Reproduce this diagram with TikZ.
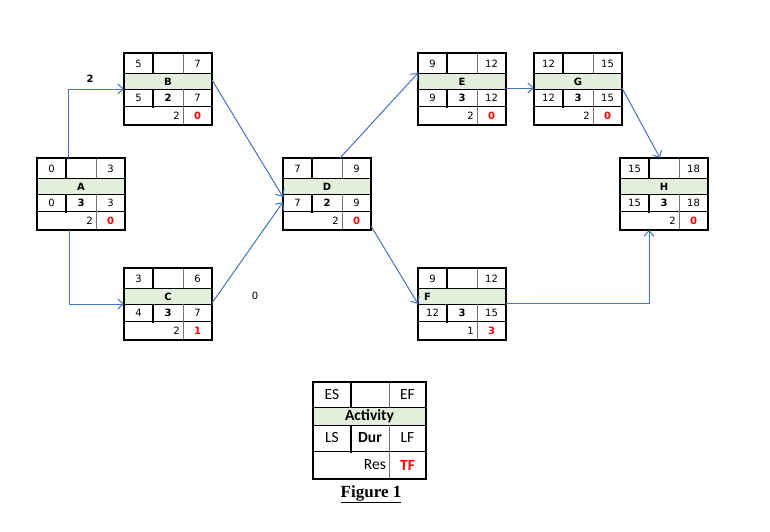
\documentclass[tikz,border=0pt]{standalone}
\usepackage{fontspec}
\setmainfont{DejaVu Sans}
\newfontfamily\legfont{Carlito}
\newfontfamily\capfont{Liberation Serif}
\usetikzlibrary{arrows.meta,calc}
\definecolor{arrowblue}{RGB}{68,114,196}
\definecolor{cellgreen}{RGB}{226,239,218}
\definecolor{tfred}{RGB}{255,0,0}
\tikzset{
 boxshape/.style={minimum width=88pt,minimum height=72pt,inner sep=0pt,outer sep=0pt,draw=none},
 frame/.style={draw=black,line width=2.8pt},
 hline/.style={draw=black,line width=0.8pt},
 vthick/.style={draw=black,line width=1.4pt},
 vthin/.style={draw=black!55,line width=0.6pt},
 num/.style={inner sep=0pt,font=\fontsize{10}{12}\selectfont},
 bnum/.style={inner sep=0pt,font=\fontsize{10}{12}\selectfont\bfseries},
 tf/.style={bnum,text=tfred},
 leg/.style={inner sep=0pt,font=\legfont\fontsize{15.5}{17}\selectfont},
 bleg/.style={inner sep=0pt,font=\legfont\fontsize{15.5}{17}\selectfont\bfseries},
 conn/.style={draw=arrowblue,line width=1pt,-{Straight Barb[length=5.5pt,width=10pt]}},
 lbl/.style={inner sep=0pt,font=\fontsize{10}{12}\selectfont},
}
% #1 name, #2 ES, #3 EF, #4 title, #5 LS, #6 Dur, #7 LF, #8 Res, #9 TF
\newcommand\actbox[9]{%
 \node[boxshape] (#1) at (44,36) {};
 \fill[cellgreen] (0,20) rectangle (88,36);
 \draw[hline] (0,20) -- (88,20) (0,36) -- (88,36) (0,53) -- (88,53);
 \draw[vthick] (29,0) -- (29,20) (29,36) -- (29,55);
 \draw[vthin] (59,0) -- (59,20) (59,36) -- (59,72);
 \draw[frame] (0,0) rectangle (88,72);
 \node[num] (#1-es) at (14.5,10.5) {#2};
 \node[num] (#1-ef) at (73.5,10.5) {#3};
 \node[bnum] (#1-t) at (44,28.5) {#4};
 \node[num] (#1-ls) at (14.5,45) {#5};
 \node[bnum] (#1-d) at (44,45) {#6};
 \node[num] (#1-lf) at (73.5,45) {#7};
 \node[num,anchor=east] (#1-r) at (56,63) {#8};
 \node[tf] (#1-tf) at (73.5,63) {#9};
}
\begin{document}
\begin{tikzpicture}[x=1pt,y=-1pt]
\useasboundingbox[fill=white] (0,0) rectangle (770,531);
\begin{scope}[shift={(37,158)}]\actbox{A}{0}{3}{A}{0}{3}{3}{2}{0}\end{scope}
\begin{scope}[shift={(124,53)}]\actbox{B}{5}{7}{B}{5}{2}{7}{2}{0}\end{scope}
\begin{scope}[shift={(124,268)}]\actbox{C}{3}{6}{C}{4}{3}{7}{2}{1}\end{scope}
\begin{scope}[shift={(283,158)}]\actbox{D}{7}{9}{D}{7}{2}{9}{2}{0}\end{scope}
\begin{scope}[shift={(418,53)}]\actbox{E}{9}{12}{E}{9}{3}{12}{2}{0}\end{scope}
\begin{scope}[shift={(534,53)}]\actbox{G}{12}{15}{G}{12}{3}{15}{2}{0}\end{scope}
\begin{scope}[shift={(418,268)}]\actbox{F}{9}{12}{\makebox[76pt][l]{F}}{12}{3}{15}{1}{3}\end{scope}
\begin{scope}[shift={(620,158)}]\actbox{H}{15}{18}{H}{15}{3}{18}{2}{0}\end{scope}
% connectors
\draw[conn] ($(A.north west)+(31,0)$) |- ($(B.north west)+(0,36)$);
\draw[conn] ($(A.south west)+(32,0)$) |- ($(C.north west)+(0,36)$);
\draw[conn] ($(B.north east)+(0,27)$) -- ($(D.north west)+(0,39)$);
\draw[conn] ($(C.north east)+(0,35)$) -- ($(D.north west)+(0,44)$);
\draw[conn] ($(D.north west)+(57,0)$) -- ($(E.north west)+(0,20)$);
\draw[conn] ($(D.south east)+(0,-4)$) -- ($(F.north west)+(0,36)$);
\draw[conn] ($(E.north east)+(0,35)$) -- ($(G.north west)+(0,35)$);
\draw[conn] ($(G.north east)+(0,35)$) -- ($(H.north west)+(40,0)$);
\draw[conn] ($(F.north east)+(0,35)$) -| ($(H.south west)+(29,0)$);
\node[lbl,font=\fontsize{10}{12}\selectfont\bfseries] (lab2) at (90,79) {2};
\node[lbl] (lab0) at (255,296) {0};
% legend
\begin{scope}[shift={(313,382)}]
 \node[inner sep=0pt,outer sep=0pt,minimum width=113pt,minimum height=97pt] (legend) at (56.5,48.5) {};
 \fill[cellgreen] (0,25) rectangle (113,43);
 \draw[hline] (0,25) -- (113,25) (0,43) -- (113,43) (0,69) -- (113,69);
 \draw[vthick] (38,0) -- (38,25) (38,43) -- (38,71);
 \draw[vthin] (76,0) -- (76,25) (76,43) -- (76,97);
 \draw[frame] (0,0) rectangle (113,97);
 \node[leg] (leg-es) at (19,13) {ES};
 \node[leg] (leg-ef) at (94.5,13) {EF};
 \node[bleg] (leg-act) at (56.5,34.5) {Activity};
 \node[leg] (leg-ls) at (19,56) {LS};
 \node[bleg] (leg-dur) at (57,56) {Dur};
 \node[leg] (leg-lf) at (94.5,56) {LF};
 \node[leg,anchor=east] (leg-res) at (73,83) {Res};
 \node[bleg,text=tfred] (leg-tf) at (94.5,83) {TF};
\end{scope}
\node[inner sep=0pt,font=\capfont\bfseries\fontsize{17}{19}\selectfont] (caption) at (371,494) {\underline{Figure 1}};
\end{tikzpicture}
\end{document}
